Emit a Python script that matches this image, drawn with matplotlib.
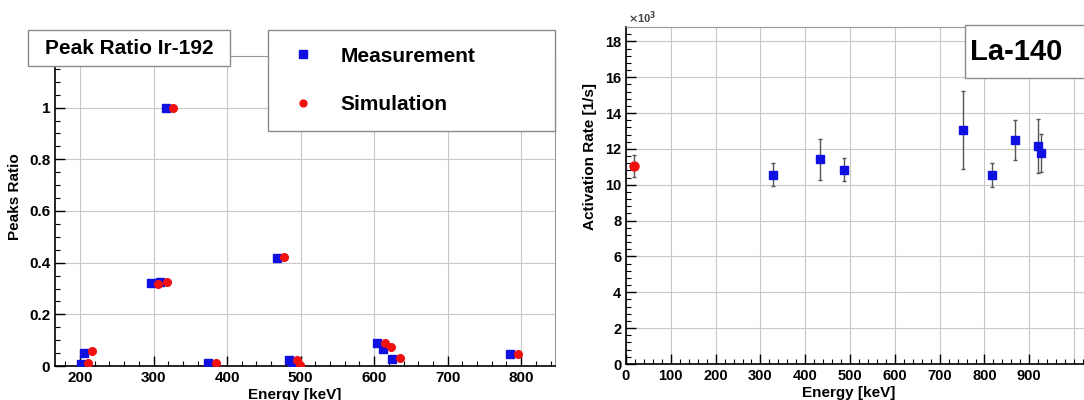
import numpy as np
import matplotlib
matplotlib.use("Agg")
import matplotlib.pyplot as plt
from matplotlib.patches import Rectangle
from matplotlib.ticker import MultipleLocator, FuncFormatter

plt.rcParams['font.family'] = ['Liberation Sans', 'DejaVu Sans']
plt.rcParams['font.weight'] = 'bold'

# Ir-192 peak ratios (left panel)
meas_e = [201, 206, 296, 308.5, 316.5, 374.5, 468, 484.6, 489, 604.4, 612.5, 625, 785]
meas_r = [0.008, 0.052, 0.322, 0.325, 1.0, 0.01, 0.42, 0.022, 0.005, 0.088, 0.065, 0.028, 0.046]
sim_e = [211, 216, 306, 318.5, 326.5, 384.5, 478, 494.6, 499, 614.4, 622.5, 635, 795]
sim_r = [0.01, 0.06, 0.318, 0.327, 1.0, 0.01, 0.423, 0.025, 0.005, 0.09, 0.075, 0.03, 0.048]

# La-140 activation rates (right panel), units of 1e3 1/s
la_sim_e = [18]
la_sim_rate = [11.05]
la_sim_err = [0.6]
la_meas_e = [328.8, 432.5, 487.0, 751.6, 815.8, 867.8, 919.6, 925.2]
la_meas_rate = [10.57, 11.41, 10.85, 13.04, 10.53, 12.49, 12.17, 11.78]
la_meas_err = [0.63, 1.16, 0.65, 2.18, 0.67, 1.1, 1.5, 1.05]

W, H = 1084, 400
fig = plt.figure(figsize=(W / 100, H / 100), dpi=100)

def fx(px):
    return px / W

def fy(py):
    return 1 - py / H

gridc = '#c8c8c8'

def style(ax):
    ax.grid(True, which='major', color=gridc, lw=0.8)
    ax.set_axisbelow(True)
    for s in ['top', 'right']:
        ax.spines[s].set_color('#9a9a9a')
    for s in ['left', 'bottom']:
        ax.spines[s].set_linewidth(1.2)
    ax.tick_params(which='both', direction='in', top=False, right=False)
    ax.tick_params(which='major', length=7, width=1)
    ax.tick_params(which='minor', length=3.5, width=0.8)

def fmt(v, pos):
    s = ('%.1f' % v).rstrip('0').rstrip('.')
    return s

# left panel
ax1 = fig.add_axes([fx(55), fy(366), fx(500), 310 / H])
ax1.plot(meas_e, meas_r, 's', color='#1010e0', ms=6, mec='#1010e0', label='Measurement', zorder=3)
ax1.plot(sim_e, sim_r, 'o', color='#f01010', ms=5.5, mec='#f01010', label='Simulation', zorder=3)
ax1.set_xlim(166, 846)
ax1.set_ylim(0, 1.2)
ax1.set_xticks(np.arange(200, 801, 100))
ax1.xaxis.set_minor_locator(MultipleLocator(20))
ax1.set_yticks(np.arange(0, 1.01, 0.2))
ax1.yaxis.set_minor_locator(MultipleLocator(0.05))
ax1.yaxis.set_major_formatter(FuncFormatter(fmt))
ax1.tick_params(labelsize=11)
style(ax1)
ax1.grid(False)
for v in np.arange(200, 801, 100):
    ax1.axvline(v, color=gridc, lw=0.8, zorder=0)
for v in np.arange(0.2, 1.21, 0.2):
    ax1.axhline(v, color=gridc, lw=0.8, zorder=0)
ax1.set_xlabel('Energy [keV]', fontsize=11, fontweight='bold', va='center')
ax1.xaxis.set_label_coords(0.48, -0.094)
ax1.set_ylabel('Peaks Ratio', fontsize=11, fontweight='bold', va='center')
ax1.yaxis.set_label_coords(-0.08, 0.545)

leg = ax1.legend(loc='upper left', bbox_to_anchor=(fx(268), fy(128), fx(287), 98 / H),
                 bbox_transform=fig.transFigure, mode='expand', fancybox=False,
                 edgecolor='#8a8a8a', framealpha=1, prop={'size': 15, 'weight': 'bold'},
                 borderpad=0.8, labelspacing=1.4, handletextpad=0.9, handlelength=1.8,
                 markerscale=0.9, borderaxespad=0)
leg.get_frame().set_linewidth(1)

fig.add_artist(Rectangle((fx(28), fy(66)), fx(202), 36 / H, transform=fig.transFigure,
                         facecolor='white', edgecolor='#8a8a8a', lw=1, zorder=5))
fig.text(fx(129), fy(48), 'Peak Ratio Ir-192', fontsize=15, fontweight='bold',
         ha='center', va='center', zorder=6)

# right panel
ax2 = fig.add_axes([fx(626), fy(364), fx(470), 337 / H])
ax2.errorbar(la_meas_e, la_meas_rate, yerr=la_meas_err, fmt='s', color='#1010e0',
             ms=6, ecolor='#555555', elinewidth=1, capsize=1.5, zorder=3)
ax2.errorbar(la_sim_e, la_sim_rate, yerr=la_sim_err, fmt='o', color='#f01010',
             ms=6.5, ecolor='#555555', elinewidth=1, capsize=1.5, zorder=3)
ax2.set_xlim(0, 470 / 0.4481)
ax2.set_ylim(0, 18.8)
ax2.set_xticks(np.arange(0, 901, 100))
ax2.xaxis.set_minor_locator(MultipleLocator(20))
ax2.yaxis.set_major_locator(MultipleLocator(2))
ax2.yaxis.set_minor_locator(MultipleLocator(0.4))
ax2.tick_params(labelsize=10.5)
style(ax2)
ax2.axvline(1000, color=gridc, lw=0.8, zorder=0)
ax2.spines['right'].set_visible(False)
ax2.set_xlabel('Energy [keV]', fontsize=11, fontweight='bold', va='center')
ax2.xaxis.set_label_coords(0.474, -0.086)
ax2.set_ylabel('Activation Rate [1/s]', fontsize=11, fontweight='bold', va='center')
ax2.yaxis.set_label_coords(-0.077, 0.617)
fig.text(fx(628), fy(18), r'$\times$10$^3$', fontsize=8, color='#444444', ha='left', va='center')

fig.add_artist(Rectangle((fx(965), fy(78)), fx(130), 53 / H, transform=fig.transFigure,
                         facecolor='white', edgecolor='#8a8a8a', lw=1, zorder=5))
fig.text(fx(970), fy(52), 'La-140', fontsize=21, fontweight='bold',
         ha='left', va='center', zorder=6)

fig.savefig('out.png', dpi=100)
